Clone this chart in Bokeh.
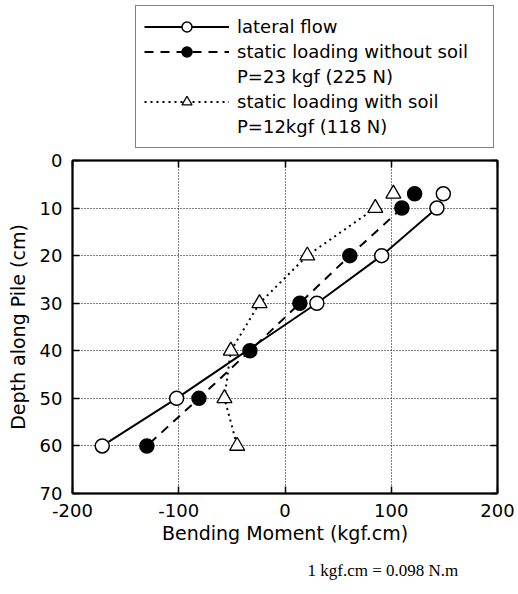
from bokeh.plotting import figure
from bokeh.layouts import column
from bokeh.models import Range1d, FixedTicker, LinearAxis, Legend, LegendItem, Title
from bokeh.embed import file_html
from bokeh.resources import INLINE

# ---- data ----
depth = [7, 10, 20, 30, 40, 50, 60]
lateral_depth = [7, 10, 20, 30, 50, 60]
lateral_flow = [149, 143, 91, 30, -102, -172]
static_without_soil = [122, 110, 61, 14, -33, -81, -130]
static_with_soil = [102, 85, 21, -24, -51, -57, -45]

x_ticks = [-200, -100, 0, 100, 200]
x_tick_labels = ["-200", "-100", "0", "100", "200"]
y_ticks = [0, 10, 20, 30, 40, 50, 60, 70]
y_tick_labels = ["0", "10", "20", "30", "40", "50", "60", "70"]

label_lateral = "lateral flow"
label_without = "static loading without soil"
label_without_p = "P=23 kgf (225 N)"
label_with = "static loading with soil"
label_with_p = "P=12kgf (118 N)"
x_title = "Bending Moment (kgf.cm)"
y_title = "Depth along Pile (cm)"
note_text = "1 kgf.cm = 0.098 N.m"

FONT = "DejaVu Sans"

# styles
line_lateral = dict(line_color="black", line_width=2)
line_without = dict(line_color="black", line_width=2, line_dash="9 7")
line_with = dict(line_color="black", line_width=2, line_dash="2 4")
mark_lateral = dict(marker="circle", size=14, fill_color="white", line_color="black", line_width=1.5)
mark_without = dict(marker="circle", size=14, fill_color="black", line_color="black", line_width=1.5)
mark_with = dict(marker="triangle", size=15, fill_color="white", line_color="black", line_width=1.3)

# ---------------- main plot ----------------
p = figure(width=518, height=446, x_range=Range1d(-200, 200), y_range=Range1d(70, 0),
           output_backend="svg", toolbar_location=None,
           min_border_left=72, min_border_right=21, min_border_top=12, min_border_bottom=101,
           background_fill_color="white", border_fill_color="white")
p.outline_line_color = "black"
p.outline_line_width = 1.5

def style_axis(ax, ticks, labels, show_labels=True):
    ax.ticker = FixedTicker(ticks=ticks)
    ax.major_label_overrides = {t: l for t, l in zip(ticks, labels)}
    ax.axis_line_color = "black"
    ax.axis_line_width = 2
    ax.major_tick_line_color = "black"
    ax.major_tick_line_width = 1.5
    ax.major_tick_in = 7
    ax.major_tick_out = 0
    ax.minor_tick_line_color = None
    ax.major_label_text_font = FONT
    ax.major_label_text_font_size = "18px" if show_labels else "0px"
    ax.major_label_text_color = "black" if show_labels else None
    ax.major_label_standoff = 10 if show_labels else 0

style_axis(p.xaxis[0], x_ticks, x_tick_labels)
style_axis(p.yaxis[0], y_ticks, y_tick_labels)
p.xaxis[0].axis_label = x_title
p.yaxis[0].axis_label = y_title
for ax in (p.xaxis[0], p.yaxis[0]):
    ax.axis_label_text_font = FONT
    ax.axis_label_text_font_size = "19px"
    ax.axis_label_text_font_style = "normal"
    ax.axis_label_text_color = "black"
p.xaxis[0].axis_label_standoff = 2
p.yaxis[0].axis_label_standoff = 8

top_ax = LinearAxis()
style_axis(top_ax, x_ticks, x_tick_labels, show_labels=False)
p.add_layout(top_ax, "above")
right_ax = LinearAxis()
style_axis(right_ax, y_ticks, y_tick_labels, show_labels=False)
p.add_layout(right_ax, "right")

p.xgrid.ticker = FixedTicker(ticks=x_ticks)
p.ygrid.ticker = FixedTicker(ticks=y_ticks)
for g in (p.xgrid, p.ygrid):
    g.grid_line_color = "black"
    g.grid_line_width = 1
    g.grid_line_dash = "1 2"

# series lines (depth 10-60) and markers
p.line(lateral_flow[1:], lateral_depth[1:], **line_lateral)
p.line(static_without_soil[1:], depth[1:], **line_without)
p.line(static_with_soil[1:], depth[1:], **line_with)
p.scatter(static_with_soil, depth, **mark_with)
p.scatter(lateral_flow, lateral_depth, **mark_lateral)
p.scatter(static_without_soil, depth, **mark_without)

note = Title(text=note_text, align="left", offset=235, text_font="Liberation Serif",
             text_font_size="17px", text_font_style="normal", text_color="black", standoff=24)
p.add_layout(note, "below")

# ---------------- legend strip (frame aligned with main plot) ----------------
lf = figure(width=518, height=148, x_range=Range1d(0, 1), y_range=Range1d(0, 1),
            x_axis_type=None, y_axis_type=None, output_backend="svg", toolbar_location=None,
            min_border=0, background_fill_color="white", border_fill_color="white")
lf.outline_line_color = None
lf.xgrid.visible = False
lf.ygrid.visible = False

# same series, drawn outside this strip's view: only their legend samples show
g1 = [lf.line(lateral_flow, lateral_depth, **line_lateral),
      lf.scatter(lateral_flow, lateral_depth, **mark_lateral)]
g2 = [lf.line(static_without_soil, depth, **line_without),
      lf.scatter(static_without_soil, depth, **mark_without)]
g3 = [lf.line(static_with_soil, depth, **line_with),
      lf.scatter(static_with_soil, depth, **mark_with)]
blank = lf.scatter(static_with_soil, depth, fill_alpha=0, line_alpha=0)

legend = Legend(items=[
    LegendItem(label=label_lateral, renderers=g1),
    LegendItem(label=label_without, renderers=g2),
    LegendItem(label=label_without_p, renderers=[blank]),
    LegendItem(label=label_with, renderers=g3),
    LegendItem(label=label_with_p, renderers=[blank]),
], location=(63, 0))
legend.label_text_font = FONT
legend.label_text_font_size = "18px"
legend.label_text_color = "black"
legend.glyph_width = 85
legend.glyph_height = 25
legend.label_height = 25
legend.label_width = 248
legend.label_standoff = 8
legend.spacing = 0
legend.padding = 8
legend.margin = 0
legend.border_line_color = "black"
legend.border_line_width = 1.5
legend.background_fill_color = "white"
legend.background_fill_alpha = 1
lf.add_layout(legend)

layout = column(lf, p, spacing=0)
open("out.html", "w").write(file_html(layout, INLINE))
